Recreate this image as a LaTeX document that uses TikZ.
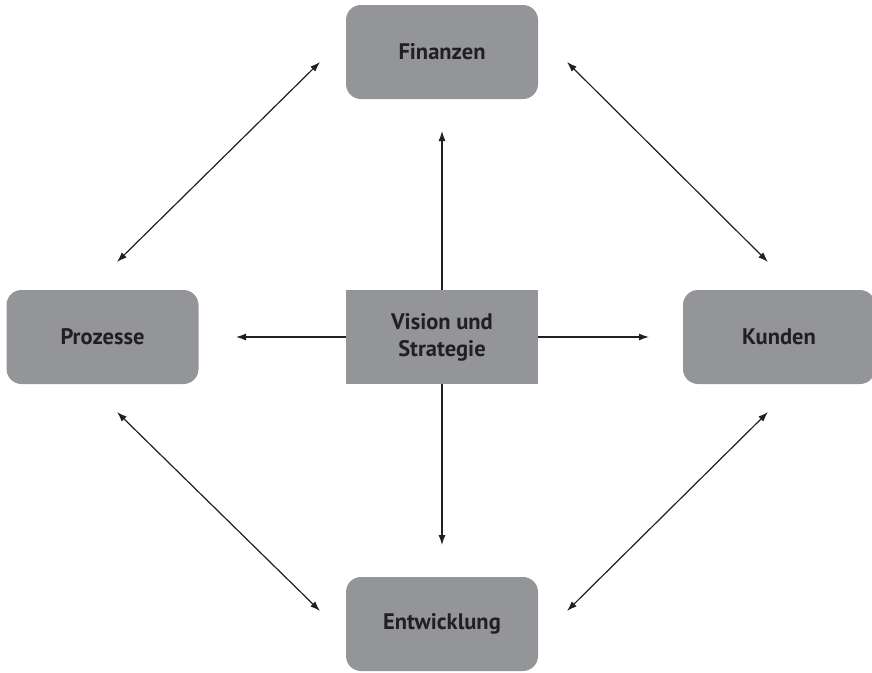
\documentclass[tikz,border=0pt]{standalone}
\usepackage{fontspec}
\setmainfont{PT Sans}
\usetikzlibrary{arrows.meta}

\definecolor{boxgray}{HTML}{939598}
\definecolor{inkdark}{HTML}{231F20}

\tikzset{
    card/.style={fill=boxgray, rounded corners=15pt, minimum width=192pt, minimum height=94pt,
        inner sep=0pt, font=\fontsize{22.5}{27}\selectfont\bfseries, text=inkdark, align=center},
    core/.style={card, rounded corners=0pt},
    link/.style={draw=inkdark, line width=1.2pt, -{Latex[length=10pt,width=7pt]}},
    twolink/.style={link, {Latex[length=10pt,width=7pt]}-{Latex[length=10pt,width=7pt]}}
}

\begin{document}
\begin{tikzpicture}[x=1pt, y=-1pt]
\useasboundingbox (0,0) rectangle (872,672);

% perspectives
\node[card] (fin) at (442,52) {Finanzen};
\node[card] (proz) at (102.5,337) {Prozesse};
\node[card] (kun) at (779,337) {Kunden};
\node[card] (ent) at (442,624) {Entwicklung};
\node[core] (vis) at (442,337) {Vision und\\Strategie};

% arrow ends
\coordinate (upend) at (442,131);
\coordinate (downend) at (442,545);
\coordinate (leftend) at (236,337);
\coordinate (rightend) at (649,337);

\coordinate (finL) at (320,62);
\coordinate (finR) at (567,62);
\coordinate (prozT) at (117,262);
\coordinate (prozB) at (117,412);
\coordinate (kunT) at (768,262);
\coordinate (kunB) at (768,412);
\coordinate (entL) at (320,611);
\coordinate (entR) at (567,611);

% from the center
\draw[link] (vis.north) -- (upend);
\draw[link] (vis.south) -- (downend);
\draw[link] (vis.west) -- (leftend);
\draw[link] (vis.east) -- (rightend);

% around
\draw[twolink] (finL) -- (prozT);
\draw[twolink] (finR) -- (kunT);
\draw[twolink] (prozB) -- (entL);
\draw[twolink] (kunB) -- (entR);
\end{tikzpicture}
\end{document}
